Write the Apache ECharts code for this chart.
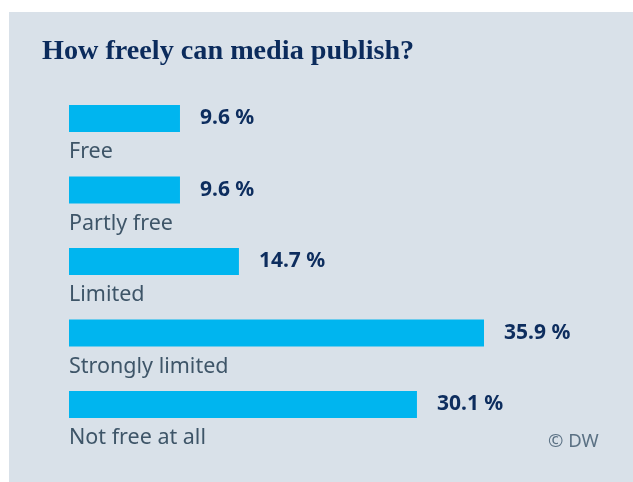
<!DOCTYPE html>
<html>
<head>
<meta charset="utf-8">
<script src="https://cdn.jsdelivr.net/npm/echarts@6/dist/echarts.min.js"></script>
<style>
html,body{margin:0;padding:0;background:#ffffff;}
#main{width:633px;height:482px;}
</style>
</head>
<body>
<div id="main"></div>
<script>
const titleText = "How freely can media publish?";
const categories = ["Free", "Partly free", "Limited", "Strongly limited", "Not free at all"];
const values = [9.6, 9.6, 14.7, 35.9, 30.1];
const sourceText = "© DW";

const chart = echarts.init(document.getElementById('main'), null, {renderer: 'canvas'});
chart.setOption({
  backgroundColor: '#ffffff',
  animation: false,
  graphic: [
    {type: 'rect', left: 9, top: 12, z: -10, shape: {width: 624, height: 470}, style: {fill: '#d9e1e9'}},
    {type: 'text', left: 548, top: 432, style: {text: sourceText, font: '18.5px "Noto Sans"', fill: '#5b7184'}}
  ],
  title: {
    text: titleText,
    left: 42, top: 38,
    padding: 0,
    textStyle: {fontFamily: '"Liberation Serif"', fontSize: 28.2, fontWeight: 'bold', color: '#0b2b5c'}
  },
  grid: {left: 69, top: 82.75, width: 462.4, height: 357.5, containLabel: false},
  xAxis: {type: 'value', min: 0, max: 40, show: false},
  yAxis: {type: 'category', data: categories, inverse: true, show: false},
  series: [
    {
      type: 'bar', data: values, barWidth: 27,
      itemStyle: {color: '#00b5ef'},
      label: {
        show: true, position: 'right', distance: 20,
        formatter: p => p.value.toFixed(1) + ' %',
        fontFamily: '"Noto Sans"', fontWeight: 'bold', fontSize: 21, color: '#0d2d5e'
      }
    },
    {
      type: 'bar', data: values, barWidth: 27, barGap: '-100%',
      itemStyle: {color: 'rgba(0,0,0,0)'},
      label: {
        show: true, position: [0, 47], align: 'left', verticalAlign: 'middle',
        formatter: p => p.name,
        fontFamily: '"Noto Sans"', fontSize: 21.5, color: '#3e5568'
      }
    }
  ]
});
</script>
</body>
</html>
